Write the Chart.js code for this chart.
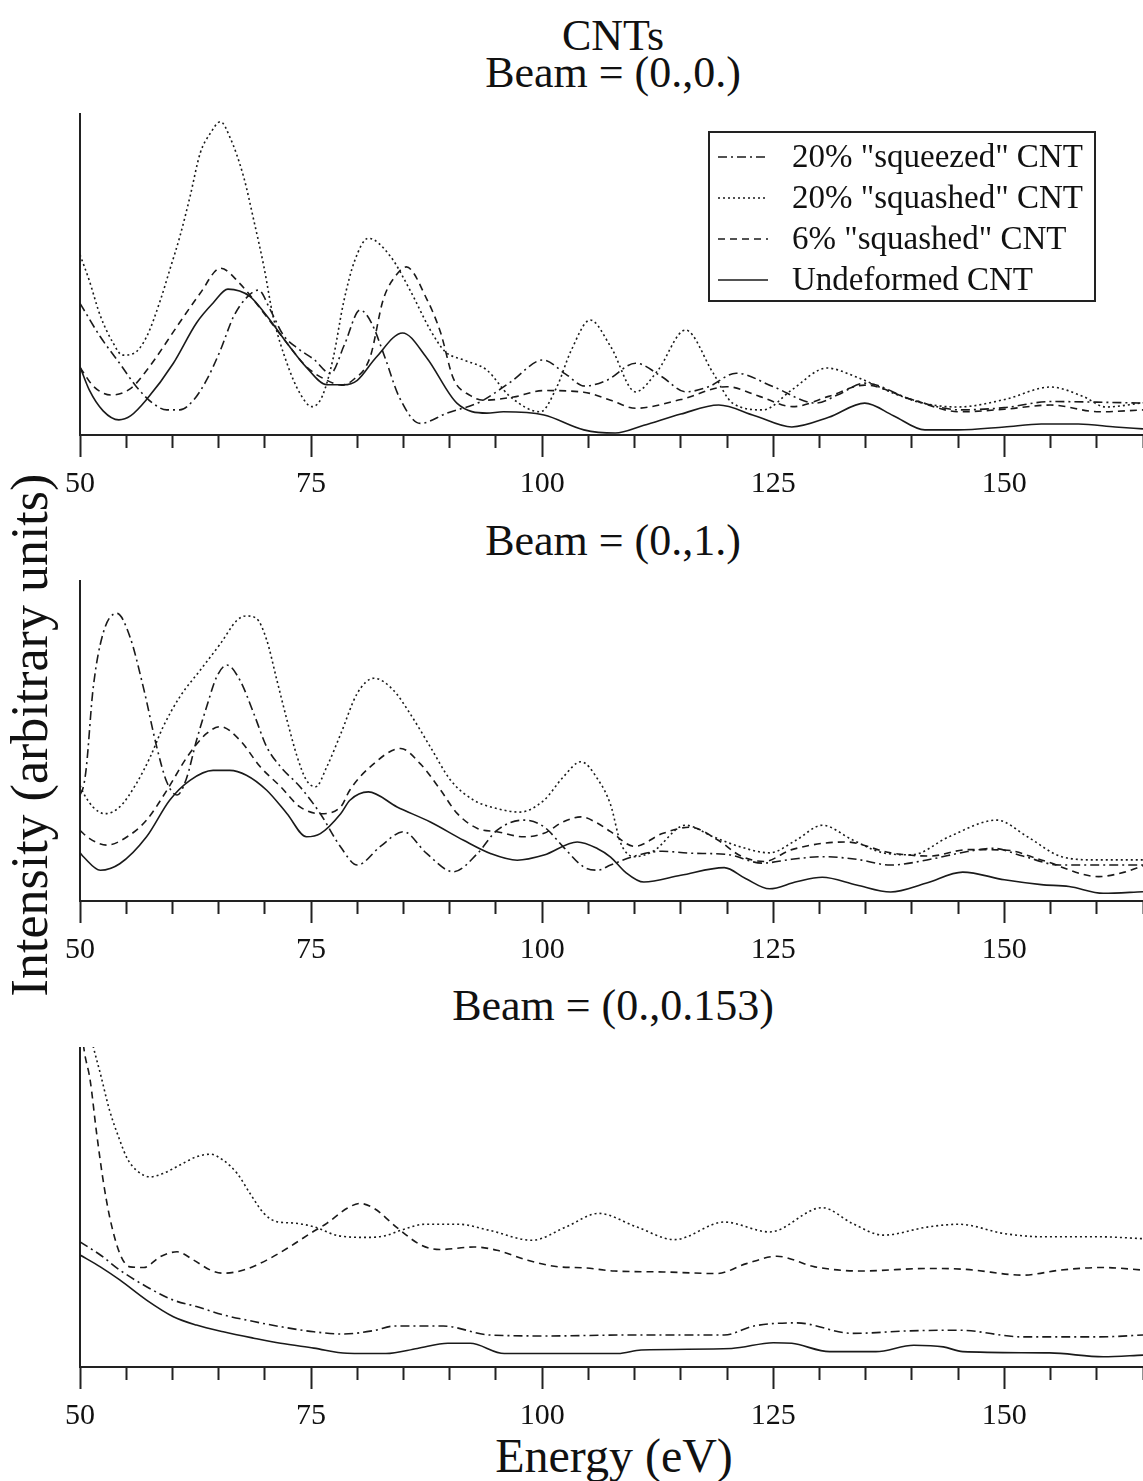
<!DOCTYPE html>
<html>
<head>
<meta charset="utf-8">
<script src="https://cdn.jsdelivr.net/npm/chart.js@4.4.1/dist/chart.umd.min.js"></script>
<style>
  body { margin: 0; background: #fff; }
  #page { position: relative; width: 1143px; height: 1481px; overflow: hidden; background: #fff; font-family: "Liberation Serif", serif; color: #111; }
  canvas { position: absolute; left: 0; }
  .txt { position: absolute; line-height: 1; white-space: nowrap; transform: translate(-50%, -50%); }
</style>
</head>
<body>
<div id="page">
  <div class="txt" style="left:613px; top:36px; font-size:44px;">CNTs</div>
  <div class="txt" style="left:613px; top:73px; font-size:44px;">Beam = (0.,0.)</div>
  <div class="txt" style="left:613px; top:541px; font-size:44px;">Beam = (0.,1.)</div>
  <div class="txt" style="left:613px; top:1006px; font-size:44px;">Beam = (0.,0.153)</div>
  <div class="txt" style="left:614px; top:1456px; font-size:48px;">Energy (eV)</div>
  <div class="txt" style="left:30px; top:735px; font-size:52px; transform: translate(-50%, -50%) rotate(-90deg);">Intensity (arbitrary units)</div>

  <canvas id="beam00" width="1152" height="392" style="top:113px"></canvas>
  <canvas id="beam01" width="1152" height="391" style="top:580px"></canvas>
  <canvas id="beam0153" width="1152" height="390" style="top:1047px"></canvas>
</div>

<script>
Chart.defaults.font.family = '"Liberation Serif", serif';
Chart.defaults.color = '#111';
Chart.defaults.animation = false;

const seriesLabels = ['20% "squeezed" CNT', '20% "squashed" CNT', '6% "squashed" CNT', 'Undeformed CNT'];
const tickLabels = [50, 75, 100, 125, 150];

// ---- Beam = (0.,0.) ----
const b00SqueezedX = [50, 52.2, 54.3, 56.1, 57.9, 59.4, 60.8, 62.3, 63.7, 65.2, 66.6, 68.1, 69.3, 70.6, 72, 73.5, 75.3, 77.1, 78.6, 80.3, 81.5, 83, 84.5, 86.8, 89.7, 93.3, 96.6, 100.1, 102.5, 104.6, 107, 110.1, 113, 115.5, 118, 121, 125, 129.6, 132, 134.9, 140, 145.2, 150, 155, 160, 165];
const b00SqueezedY = [40.9, 30.5, 22.2, 15, 9.8, 7.8, 7.8, 10.9, 17.1, 26.4, 36.7, 42.9, 45, 38.8, 31, 27, 23.5, 19.1, 28, 38.8, 35, 24, 12, 3.6, 6.8, 10.3, 16.5, 23.3, 19, 15.2, 17, 22.3, 18, 13.4, 15, 19.2, 15, 9.9, 12.5, 16.1, 11, 7.8, 8.5, 10.4, 10.2, 9.9];

const b00Squashed20X = [50, 51, 52.2, 53.6, 54.6, 55.8, 57.2, 58.7, 59.7, 60.8, 61.9, 63, 64.1, 65.2, 66.2, 67.7, 68.8, 69.9, 70.9, 72.4, 73.8, 75.1, 76.2, 77.4, 78.5, 79.7, 81.2, 83.6, 85.7, 87.9, 89.5, 91.5, 94, 96.5, 99.8, 101.6, 103.1, 105.2, 107.4, 110.1, 112.5, 115.5, 118.5, 120.6, 123.9, 127, 130.8, 134, 138, 141, 145, 150, 155, 158.5, 161, 165];
const b00Squashed20Y = [56, 48, 37, 28.5, 24.8, 25.3, 30.5, 41.9, 51.2, 61.6, 74, 87.5, 93.7, 97.3, 92.6, 80.2, 66.7, 52.2, 36.7, 22.2, 12.9, 8.8, 12, 24, 41, 54, 61.1, 55.4, 45, 32.6, 25.9, 23.3, 20.2, 12, 7.2, 15, 26, 35.7, 27.5, 13.4, 20, 32.6, 19.2, 9.9, 7.8, 14, 20.8, 18, 13, 10, 8.7, 11, 14.9, 12, 8.7, 10];

const b00Squashed6X = [50, 51.5, 53.4, 55.5, 57.2, 60.8, 63, 65.2, 67.3, 70.2, 72.4, 74.5, 76.7, 78.3, 79.5, 81.4, 82.8, 84.3, 85.3, 87.5, 89, 90.4, 92.2, 93.7, 96.9, 100.2, 104.5, 107.4, 110.1, 115, 120, 123.5, 127.1, 131, 134.9, 140, 145.2, 150, 155, 160.3, 165];
const b00Squashed6Y = [21, 15, 12.4, 14.5, 20, 35, 44, 51.8, 47, 36.7, 28.5, 21.2, 17, 15.5, 17, 24.3, 42, 50, 52.2, 42.3, 31.9, 17.5, 12.3, 10.8, 11.8, 13.8, 13.3, 10.8, 8.3, 11, 15, 12, 8.8, 12, 15.5, 11, 7.2, 8, 9.3, 7.2, 7.8];

const b00UndeformedX = [50, 51, 52.5, 54.2, 55.5, 57.2, 60.1, 62.6, 64.4, 66, 68.4, 70.2, 72.4, 74.5, 76.7, 78.5, 80, 82, 84.9, 87.5, 90.8, 94, 95.8, 100.2, 104.5, 107.9, 111, 115, 119.1, 123, 127, 131, 134.9, 138, 141.4, 145, 150, 154, 158, 162, 165];
const b00UndeformedY = [21.2, 14, 7.5, 4.7, 6, 11, 22.3, 34.8, 41, 45.3, 43, 37, 28.5, 21, 15.6, 15.6, 17, 24, 31.7, 24, 9.8, 6.8, 7.2, 6.2, 1.6, 0.6, 3, 6.5, 9.3, 6, 2.5, 5.5, 9.9, 6, 1.6, 1.6, 2.5, 3.4, 3.4, 2.5, 1.9];

// ---- Beam = (0.,1.) ----
const b01SqueezedX = [50, 50.4, 50.7, 51.4, 52.5, 54, 55.4, 56.9, 58.3, 59.4, 60.5, 61.5, 62.6, 63.7, 64.8, 65.9, 67.3, 68.8, 70.2, 71.7, 73.8, 76, 78.2, 80, 82.5, 85, 87.5, 90.4, 93, 95.1, 98, 100.2, 102.3, 104.5, 106, 107.4, 110, 113, 116, 120, 123.8, 127, 130.3, 134, 137.7, 142, 146, 148.8, 152, 156, 165];
const b01SqueezedY = [33, 36, 42, 65.7, 83.4, 89.6, 82.3, 66, 48, 37, 33, 38, 50, 60.5, 69.9, 73.5, 68.8, 58.4, 48, 41.8, 35.6, 27.2, 16.8, 11.2, 17, 21.6, 14.8, 9.1, 14.8, 22, 25.2, 23.1, 16.8, 10.6, 9.6, 11.2, 14, 15.5, 14.9, 14.5, 11.8, 13, 13.8, 13, 11.2, 13, 15.4, 16.4, 14, 11.2, 11.2];

const b01Squashed20X = [50, 50.4, 51.4, 52.7, 54.3, 56.1, 57.6, 59, 60.8, 63, 65.2, 67, 68, 69.1, 70.2, 71.3, 72.4, 73.5, 74.5, 75.5, 76.7, 78.2, 80, 81.8, 83.9, 85.7, 87.9, 90.1, 92.6, 95.1, 97.6, 100.2, 102.3, 104.2, 106, 107.4, 108.5, 110, 112, 115.5, 118.5, 121.3, 124.6, 127.5, 130.3, 133.6, 136.9, 140, 144, 149.2, 152.5, 156.2, 160, 165];
const b01Squashed20Y = [36, 33.5, 29.3, 27.2, 29.3, 36.6, 44.9, 54.3, 63.6, 71.9, 80.2, 87.5, 88.8, 88, 81.3, 68.8, 56.3, 44.9, 37.6, 35.6, 41.8, 52, 64.7, 69.4, 65.7, 58.4, 48, 37.6, 31.4, 28.8, 27.7, 31.4, 38.7, 43.4, 38, 30, 18, 13.8, 15.5, 23.6, 20, 17, 15, 19, 23.6, 19, 15, 14.4, 20, 25.2, 20, 13.8, 12.8, 12.8];

const b01Squashed6X = [50, 51, 52.9, 55.1, 57.2, 59.4, 61.6, 63.7, 65.2, 67.3, 69.5, 71.7, 73.8, 76, 78.2, 79.2, 81.4, 84.7, 86.8, 89, 90.8, 93, 95.1, 98, 100.2, 102.3, 104.2, 106, 107.4, 110, 113, 116, 119, 121.5, 124, 127, 132.8, 137.7, 142, 146, 150, 154, 160.2, 163, 165];
const b01Squashed6Y = [22, 19.5, 17.4, 20, 25.2, 34.5, 44.9, 52.2, 54.3, 50.1, 41.8, 35.6, 29.3, 27.2, 29.3, 34.6, 41.8, 47.5, 42.8, 34.6, 27.3, 22.6, 21.6, 20, 21.1, 24.7, 26.2, 24.2, 21.6, 17, 21, 23, 19, 14, 12.3, 16, 18.4, 15, 14, 16, 15.9, 12.8, 7.6, 9, 11];

const b01UndeformedX = [50, 50.4, 52.2, 54.3, 57.2, 59.7, 61.9, 64.4, 66.2, 68, 70.2, 72.4, 74.5, 76, 78.2, 79.2, 81.2, 84.3, 87.9, 91.5, 94.4, 97.3, 100.2, 103.8, 106, 107.4, 109, 111, 115, 119.7, 122, 124.6, 127.5, 130.3, 134, 137.7, 141.5, 145.5, 150, 154, 157, 160.7, 165];
const b01UndeformedY = [15, 13.7, 9.6, 11.6, 20, 31.4, 37.6, 40.7, 40.7, 39.2, 34.5, 27.2, 20, 21, 27.2, 31.4, 34, 29.3, 24.6, 18.9, 14.8, 12.7, 14.3, 18.4, 16.3, 13.7, 9, 5.9, 8, 10.4, 7, 3.8, 6, 7.4, 5, 2.8, 5.5, 9, 6.6, 5.1, 4.5, 2.4, 2.9];

// ---- Beam = (0.,0.153) ----
const b0153SqueezedX = [50, 52.2, 54.3, 57.2, 60.1, 62.6, 65.5, 68.8, 71.7, 75.3, 78.5, 81.8, 84, 89.3, 94.3, 100.8, 109, 119.7, 122.9, 127.5, 133.6, 139.8, 145.1, 152, 160.2, 165];
const b0153SqueezedY = [39.1, 35, 30.3, 25.1, 20.9, 18.9, 16.3, 14.2, 12.6, 11, 10.3, 11.4, 12.8, 12.8, 10, 9.7, 10, 10, 12.8, 13.8, 10.5, 11.3, 11.5, 9.4, 9.4, 10];

const b0153Squashed20X = [50, 50.8, 51.4, 52.2, 53.2, 54.3, 55.1, 56.1, 57.6, 59, 60.8, 62.6, 64.1, 65.5, 67, 68.4, 69.9, 71.3, 73.1, 75.3, 78, 81, 83, 85, 87.3, 91, 94.3, 98.9, 102.6, 106.1, 110.2, 114.3, 119.7, 124.6, 130.3, 133.6, 136.9, 141.8, 145.1, 150, 154.1, 160.2, 165];
const b0153Squashed20Y = [125, 108, 100.5, 91.7, 80.2, 70.9, 65.2, 61.5, 59.4, 60.5, 63.1, 65.7, 66.5, 64.6, 60.5, 54.2, 48, 45.4, 45, 43.8, 41, 40.5, 41, 43, 44.6, 44.6, 42.7, 39.6, 43.8, 48, 43.8, 39.8, 45.3, 42.2, 49.8, 44.8, 41.2, 43.8, 44.6, 41.7, 40.7, 40.7, 40.1];

const b0153Squashed6X = [50, 50.4, 51.1, 51.8, 52.5, 53.2, 54.3, 55.4, 56.9, 58.7, 60.5, 62.3, 64.1, 65.5, 67.7, 70.2, 72.7, 74.9, 76.7, 78.9, 80.3, 81.8, 84.4, 86.9, 88.9, 92.6, 95.1, 98.4, 101.8, 104.5, 107.8, 113.1, 118.9, 122.1, 125.4, 129.5, 134.4, 141.8, 145.9, 152, 156.1, 160.7, 165];
const b0153Squashed6Y = [112, 100, 89.6, 73, 58.4, 47, 35.5, 31.3, 31.1, 34.5, 36, 33.4, 30.3, 29.3, 30.3, 33.4, 37.6, 41.7, 44.9, 49.6, 51.1, 49.6, 43.3, 38.1, 36.7, 37.5, 36.5, 33.4, 31.3, 31, 30, 29.7, 29.2, 32.3, 34.6, 31.3, 30, 30.8, 30.5, 28.7, 30.3, 31.1, 30.3];

const b0153UndeformedX = [50, 52.2, 54.3, 57.2, 60.1, 62.6, 65.5, 68.8, 71.7, 75.3, 78.9, 83.1, 86.5, 89.8, 92.2, 95.9, 100.8, 108.2, 110.7, 120.5, 125, 127, 131.1, 136.1, 140.2, 143.4, 145.5, 154.9, 160.7, 165];
const b0153UndeformedY = [35, 31.3, 27.2, 20.9, 15.7, 13.1, 11, 9, 7.4, 5.9, 4.3, 4.2, 5.8, 7.4, 7.4, 4.2, 4.2, 4.2, 5.3, 5.8, 7.6, 7.4, 4.8, 4.8, 6.8, 6.3, 4.8, 4.4, 3.2, 3.7];

// line styles, same order as seriesLabels
const dashes = [[9, 4, 2, 4], [2, 3], [7, 5], []];
const lineColor = '#1a1a1a';

function points(xs, ys) {
    return xs.map((x, i) => ({x: x, y: ys[i]}));
}

function makeDatasets(list) {
    return list.map((pair, i) => ({
        label: seriesLabels[i],
        data: points(pair[0], pair[1]),
        borderColor: lineColor,
        backgroundColor: lineColor,
        borderWidth: 1.6,
        borderDash: dashes[i],
        pointRadius: 0,
        fill: false,
        cubicInterpolationMode: 'monotone'
    }));
}

// boxed legend inside the top panel
const legendBox = {
    id: 'legendBox',
    afterDraw(chart) {
        const ctx = chart.ctx;
        const a = chart.chartArea;
        const x0 = a.left + 629, y0 = a.top + 19;
        ctx.save();
        ctx.fillStyle = '#fff';
        ctx.fillRect(x0, y0, 386, 169);
        ctx.strokeStyle = '#222';
        ctx.lineWidth = 2;
        ctx.setLineDash([]);
        ctx.strokeRect(x0, y0, 386, 169);
        ctx.font = '33px "Liberation Serif"';
        ctx.fillStyle = '#111';
        ctx.textBaseline = 'middle';
        chart.data.datasets.forEach((ds, i) => {
            const y = y0 + 25 + i * 41;
            ctx.setLineDash(ds.borderDash);
            ctx.lineWidth = ds.borderWidth;
            ctx.strokeStyle = ds.borderColor;
            ctx.beginPath();
            ctx.moveTo(x0 + 9, y);
            ctx.lineTo(x0 + 59, y);
            ctx.stroke();
            ctx.setLineDash([]);
            ctx.fillText(ds.label, x0 + 83, y + 1);
        });
        ctx.restore();
    }
};

function makeConfig(datasets, plugins) {
    return {
        type: 'line',
        data: {datasets: datasets},
        plugins: plugins,
        options: {
            responsive: false,
            devicePixelRatio: 1,
            layout: {padding: {left: 80, right: 0, top: 0, bottom: 0}},
            plugins: {legend: {display: false}, tooltip: {enabled: false}},
            scales: {
                x: {
                    type: 'linear',
                    min: 50,
                    max: 165,
                    ticks: {
                        stepSize: 5,
                        autoSkip: false,
                        maxRotation: 0,
                        padding: 9,
                        font: {size: 30},
                        color: '#111',
                        callback: v => tickLabels.includes(v) ? String(v) : ''
                    },
                    grid: {
                        drawOnChartArea: false,
                        tickLength: 22,
                        tickWidth: 2,
                        tickColor: '#222',
                        tickBorderDash: c => (c.tick && c.tick.value % 25 === 0) ? [] : [12, 40]
                    },
                    border: {color: '#222', width: 2},
                    afterFit: s => { s.height = 70; }
                },
                y: {
                    min: 0,
                    max: 100,
                    ticks: {display: false},
                    grid: {drawOnChartArea: false, drawTicks: false},
                    border: {color: '#222', width: 2}
                }
            }
        }
    };
}

const chart00 = new Chart(document.getElementById('beam00'), makeConfig(makeDatasets([
    [b00SqueezedX, b00SqueezedY],
    [b00Squashed20X, b00Squashed20Y],
    [b00Squashed6X, b00Squashed6Y],
    [b00UndeformedX, b00UndeformedY]
]), [legendBox]));

const chart01 = new Chart(document.getElementById('beam01'), makeConfig(makeDatasets([
    [b01SqueezedX, b01SqueezedY],
    [b01Squashed20X, b01Squashed20Y],
    [b01Squashed6X, b01Squashed6Y],
    [b01UndeformedX, b01UndeformedY]
]), []));

const chart0153 = new Chart(document.getElementById('beam0153'), makeConfig(makeDatasets([
    [b0153SqueezedX, b0153SqueezedY],
    [b0153Squashed20X, b0153Squashed20Y],
    [b0153Squashed6X, b0153Squashed6Y],
    [b0153UndeformedX, b0153UndeformedY]
]), []));
</script>
</body>
</html>
